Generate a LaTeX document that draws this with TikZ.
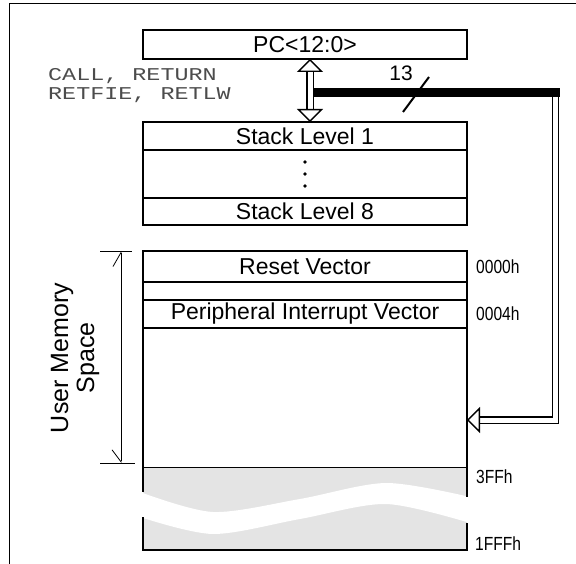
\documentclass[tikz,border=0pt]{standalone}
\usepackage{fontspec}
\setmainfont{Liberation Sans}
\newfontfamily\monofont[FakeStretch=1.3]{Liberation Mono}
\newfontfamily\addrfont[FakeStretch=0.82]{Liberation Sans}
\usetikzlibrary{arrows.meta,positioning,calc}
\definecolor{wavegray}{HTML}{E4E4E4}

\begin{document}
\begin{tikzpicture}[
    x=1pt, y=-1pt,
    box/.style={draw, line width=2pt, outer sep=0pt, inner sep=0pt, minimum width=324pt, font=\fontsize{23}{26}\selectfont},
    membox/.style={box, line width=2.6pt},
    addr/.style={inner sep=0pt, font=\addrfont\fontsize{19}{22}\selectfont},
    instr/.style={inner sep=0pt, anchor=west, text=black!70, font=\monofont\fontsize{18}{20}\selectfont},
    bus/.style={draw, line width=1.4pt, double=white, double distance=5pt},
    hollow/.tip={Triangle[open, length=13pt, width=26pt]},
    dim/.style={line width=0.8pt}
]
\useasboundingbox (0,0) rectangle (576,564);
\draw[line width=1pt] (9,564) -- (9,4) -- (576,4);

% program counter and stack
\node[box, minimum height=29pt] (pc) at (305,44.5) {PC<12:0>};
\node[box, minimum height=28pt] (stack1) at (305,136) {Stack Level 1};
\node[box, minimum height=48pt, below=0pt of stack1] (stackdots) {};
\node[box, minimum height=27pt, below=0pt of stackdots] (stack8) {Stack Level 8};
\foreach \dy in {-12,0,12}
    \fill ([yshift=\dy pt]stackdots.center) circle (1.8pt);

\node[instr] (callret) at (48,76) {CALL, RETURN};
\node[instr] (retfie) at (48,95) {RETFIE, RETLW};

% program memory
\node[membox, minimum height=31pt] (reset) at (305,266.5) {Reset Vector};
\node[membox, minimum height=18pt, below=0pt of reset] (gap) {};
\node[membox, minimum height=28pt, below=0pt of gap] (piv) {Peripheral Interrupt Vector};
\coordinate (m3ffw) at ($(piv.south west)+(0,139)$);
\coordinate (m3ffe) at ($(piv.south east)+(0,139)$);

\fill[wavegray] (m3ffw) rectangle (467,550);
\fill[white] plot[smooth] coordinates {(140,492) (213,512) (300,499) (386,483) (470,497)}
    -- plot[smooth] coordinates {(470,523) (386,504) (300,519) (213,534) (140,517)} -- cycle;
\draw[line width=2.6pt] (piv.south west) -- (143,492);
\draw[line width=2.6pt] (piv.south east) -- (467,497);
\draw[line width=2.6pt] (143,517) -- (143,550) -- (467,550) -- (467,523);
\draw[line width=1pt] (m3ffw) -- (m3ffe);

\node[addr, right=9pt of reset.east] (a0000) {0000h};
\node[addr, right=9pt of piv.east] (a0004) {0004h};
\node[addr, anchor=north west] (a03ff) at ($(m3ffe)+(9,3)$) {3FFh};
\node[addr, anchor=base west] (a1fff) at (475,550) {1FFFh};

% user memory extent
\draw[dim] (100,251) -- (132,251);
\draw[dim] (100,463) -- (135,463);
\draw[dim, {Straight Barb[harpoon, length=14pt, width=16pt]}-{Straight Barb[harpoon, swap, length=12pt, width=18pt]}] (121,251) -- (121,463);
\node[rotate=90, align=center, font=\fontsize{25}{26}\selectfont] (ums) at (75,358) {User Memory\\Space};

% call/return path and 13-bit bus
\coordinate (tap) at (313,93);
\coordinate (corner1) at (555.5,93);
\coordinate (corner2) at (555.5,420);
\draw[bus, hollow-hollow] ([xshift=5pt]pc.south) -- ([xshift=5pt]stack1.north);
\draw[bus, -hollow] (tap) -- (corner1) -- (corner2) -- (corner2 -| piv.east);
\draw[line width=9pt] (tap) -- ([xshift=4pt]corner1);
\draw[line width=2pt] (403,112) -- (429,77);
\node[font=\fontsize{21}{24}\selectfont, inner sep=0pt] (width) at (401,73) {13};

\end{tikzpicture}
\end{document}
